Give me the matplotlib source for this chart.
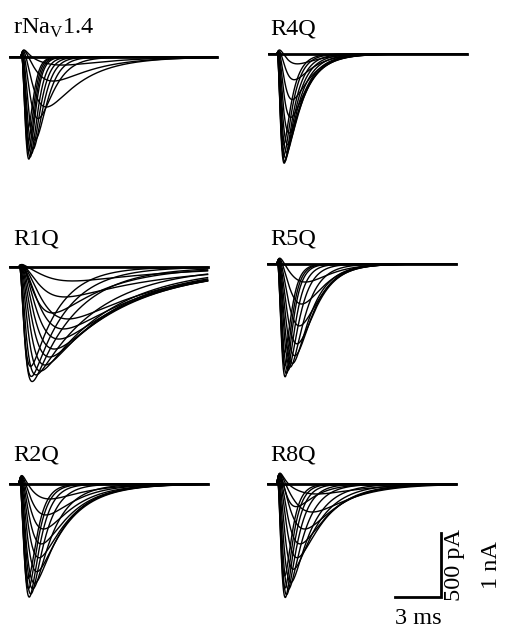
import numpy as np
import matplotlib.pyplot as plt

plt.rcParams['font.family'] = ['Liberation Serif', 'DejaVu Serif']
plt.rcParams['mathtext.fontset'] = 'custom'
plt.rcParams['mathtext.rm'] = 'Liberation Serif'

# panel names
names = [r'rNa$_\mathrm{V}$1.4', 'R4Q', 'R1Q', 'R5Q', 'R2Q', 'R8Q']

# per trace: peak current (pA), time to peak (ms), inactivation tau (ms)
wt_amp = [828, 805, 773, 734, 656, 484, 391, 188, 63, 766, 688, 594]
wt_tpk = [0.5, 0.58, 0.66, 0.76, 0.9, 1.1, 1.65, 2.1, 2.7, 0.48, 0.46, 0.44]
wt_tauh = [0.32, 0.38, 0.45, 0.52, 0.62, 0.9, 2.3, 2.6, 3.0, 0.3, 0.28, 0.27]

r4q_amp = [875, 859, 828, 781, 719, 625, 500, 359, 203, 78, 813, 734]
r4q_tpk = [0.46, 0.5, 0.55, 0.62, 0.7, 0.78, 0.88, 0.98, 1.1, 1.3, 0.44, 0.42]
r4q_tauh = [0.7, 0.8, 0.9, 1.0, 1.05, 1.1, 1.15, 1.2, 1.2, 1.3, 0.6, 0.55]

r1q_amp = [898, 844, 813, 766, 703, 641, 563, 484, 406, 359, 234, 109, 859, 781]
r1q_tpk = [0.85, 1.1, 1.4, 1.7, 2.0, 2.3, 2.6, 2.9, 3.2, 2.2, 3.0, 3.5, 0.8, 0.75]
r1q_tauh = [2.8, 4.0, 4.6, 4.8, 5.0, 5.2, 5.4, 5.6, 5.8, 3.5, 6.0, 6.0, 2.2, 1.8]

r5q_amp = [906, 875, 844, 813, 781, 719, 625, 484, 313, 141, 820, 719]
r5q_tpk = [0.52, 0.6, 0.7, 0.85, 1.0, 1.15, 1.3, 1.45, 1.6, 1.85, 0.5, 0.48]
r5q_tauh = [0.45, 0.55, 0.7, 0.9, 1.15, 1.15, 1.15, 1.15, 1.2, 1.3, 0.42, 0.4]

r2q_amp = [906, 875, 828, 781, 688, 578, 469, 352, 242, 117, 844, 766]
r2q_tpk = [0.65, 0.75, 0.88, 1.0, 1.15, 1.3, 1.45, 1.6, 1.75, 2.0, 0.6, 0.58]
r2q_tauh = [0.7, 0.9, 1.3, 1.9, 2.0, 2.0, 2.0, 2.0, 1.9, 2.2, 0.6, 0.55]

r8q_amp = [930, 898, 844, 781, 672, 578, 469, 352, 219, 180, 78, 859, 766]
r8q_tpk = [0.52, 0.6, 0.72, 0.88, 1.05, 1.3, 1.5, 1.8, 2.3, 1.2, 2.6, 0.5, 0.48]
r8q_tauh = [0.6, 0.75, 1.0, 1.3, 1.6, 1.8, 1.9, 2.0, 2.3, 1.2, 2.6, 0.5, 0.45]

# outward transient at pulse onset (pA) and recorded window (ms)
bump_amp = [55, 35, 20, 48, 68, 85]
t_start = [-0.72, -0.52, -0.59, -0.59, -0.59, -0.59]
t_stop = [12.8, 12.4, 12.3, 11.7, 12.3, 11.7]

amps = [wt_amp, r4q_amp, r1q_amp, r5q_amp, r2q_amp, r8q_amp]
tpks = [wt_tpk, r4q_tpk, r1q_tpk, r5q_tpk, r2q_tpk, r8q_tpk]
tauhs = [wt_tauh, r4q_tauh, r1q_tauh, r5q_tauh, r2q_tauh, r8q_tauh]

# layout (pixels): pulse onset x, baseline y, label x, label baseline y
W, H = 506, 628
px_ms = 15.33          # 3 ms = 46 px
px_pA = 64 / 500.0     # 500 pA = 64 px
onset_x = [21, 277, 19, 277, 19, 277]
base_y = [57, 54, 267, 264, 484, 484]
lab_x = [13, 270, 13, 270, 13, 270]
lab_y = [34, 35, 245, 245, 460, 460]


def act_tau(tpk, th):
    # activation tau so that m^3 h peaks at tpk
    lo, hi = 1e-4, 50.0
    for _ in range(80):
        mid = 0.5 * (lo + hi)
        if mid * np.log(1 + 3 * th / mid) < tpk:
            lo = mid
        else:
            hi = mid
    return mid


fig = plt.figure(figsize=(W / 100, H / 100), dpi=100)

axes = []
for i in range(6):
    left_px = onset_x[i] - 15
    top_px = base_y[i] - 20
    ax = fig.add_axes([left_px / W, 1 - (top_px + 150) / H, 220 / W, 150 / H])
    ax.set_xlim(-15 / px_ms, 205 / px_ms)
    ax.set_ylim(-130 / px_pA, 20 / px_pA)
    ax.axis('off')
    axes.append(ax)

    t = np.linspace(t_start[i], t_stop[i], 2000)
    tp = np.clip(t, 0, None)
    bump = bump_amp[i] * (tp / 0.2) * np.exp(1 - tp / 0.2)
    for a, pk, th in zip(amps[i], tpks[i], tauhs[i]):
        tm = act_tau(pk, th)
        shape = (1 - np.exp(-tp / tm)) ** 3 * np.exp(-tp / th)
        shape = shape / shape.max()
        ax.plot(t, -a * shape + bump, color='black', lw=1.0)
    ax.plot([t_start[i], t_stop[i]], [0, 0], color='black', lw=2.0)

    fig.text(lab_x[i] / W, 1 - lab_y[i] / H, names[i], fontsize=17.5,
             ha='left', va='baseline')

# scale bar in the last panel
ax = axes[5]
bar_t = [7.7, 10.7, 10.7]
bar_i = [-883, -883, -383]
ax.plot(bar_t, bar_i, color='black', lw=2.0, solid_joinstyle='miter', clip_on=False)
ax.text(11.6, -633, '500 pA', rotation=90, fontsize=17.5, ha='center', va='center')
ax.text(14.0, -633, '1 nA', rotation=90, fontsize=17.5, ha='center', va='center')
ax.text(9.2, -1050, '3 ms', fontsize=17.5, ha='center', va='center')

fig.savefig('out.png', dpi=100)
